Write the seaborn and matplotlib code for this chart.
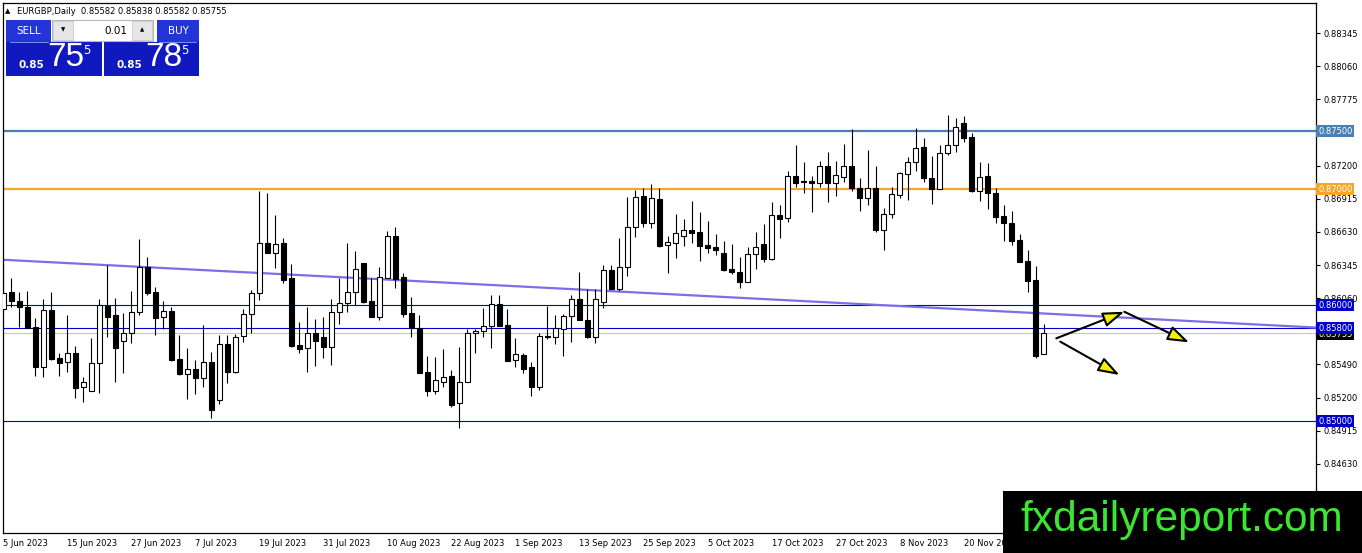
import matplotlib
matplotlib.use("Agg")
import numpy as np
import pandas as pd
import seaborn as sns
import matplotlib.pyplot as plt
from matplotlib.patches import Rectangle
from matplotlib.transforms import blended_transform_factory

# EURGBP daily, 5 Jun 2023 .. 4 Dec 2023
opens = [
    0.85966, 0.86112, 0.86034, 0.85980, 0.85807, 0.85463, 0.85957, 0.85543, 0.85509, 0.85584,
    0.85290, 0.85261, 0.85497, 0.85994, 0.85914, 0.85690, 0.85756, 0.85937, 0.86325, 0.86112,
    0.85899, 0.85948, 0.85537, 0.85403, 0.85446, 0.85373, 0.85506, 0.85181, 0.85661, 0.85425,
    0.85735, 0.85920, 0.86101, 0.86532, 0.86451, 0.86532, 0.86230, 0.85655, 0.85627, 0.85756,
    0.85722, 0.85641, 0.85937, 0.86015, 0.86115, 0.86359, 0.86034, 0.85899, 0.86235, 0.86595,
    0.86244, 0.85934, 0.85799, 0.85422, 0.85261, 0.85339, 0.85388, 0.85153, 0.85334, 0.85756,
    0.85778, 0.85819, 0.86006, 0.85828, 0.85526, 0.85569, 0.85463, 0.85296, 0.85733, 0.85727,
    0.85791, 0.85905, 0.86052, 0.85871, 0.85727, 0.86028, 0.86302, 0.86135, 0.86325, 0.86670,
    0.86940, 0.86704, 0.86911, 0.86517, 0.86537, 0.86597, 0.86647, 0.86627, 0.86517, 0.86503,
    0.86446, 0.86310, 0.86282, 0.86201, 0.86437, 0.86526, 0.86394, 0.86776, 0.86747, 0.87112,
    0.87069, 0.87069, 0.87049, 0.87201, 0.87049, 0.87106, 0.87201, 0.87006, 0.86920, 0.87006,
    0.86647, 0.86782, 0.86948, 0.87127, 0.87235, 0.87359, 0.87092, 0.87000, 0.87313, 0.87379,
    0.87566, 0.87446, 0.86983, 0.87112, 0.86968, 0.86767, 0.86710, 0.86560, 0.86379, 0.86216,
    0.85582,
]
highs = [
    0.86345, 0.86231, 0.86112, 0.86121, 0.85888, 0.86049, 0.86112, 0.85586, 0.85914, 0.85647,
    0.85381, 0.85718, 0.86049, 0.86345, 0.86063, 0.85928, 0.86121, 0.86569, 0.86416, 0.86158,
    0.86034, 0.85980, 0.85741, 0.85632, 0.85526, 0.85828, 0.85597, 0.85741, 0.85741, 0.85750,
    0.85966, 0.86129, 0.86983, 0.86963, 0.86776, 0.86575, 0.86351, 0.85856, 0.85980, 0.85877,
    0.85894, 0.86052, 0.86230, 0.86532, 0.86466, 0.86359, 0.86235, 0.86325, 0.86638, 0.86670,
    0.86273, 0.86072, 0.85914, 0.85560, 0.85554, 0.85621, 0.85440, 0.85641, 0.85793, 0.85793,
    0.85977, 0.86086, 0.86086, 0.85966, 0.85713, 0.85584, 0.85511, 0.85761, 0.85994, 0.85914,
    0.85920, 0.86086, 0.86282, 0.86138, 0.86138, 0.86345, 0.86345, 0.86575, 0.86934, 0.86991,
    0.87006, 0.87043, 0.87006, 0.86595, 0.86782, 0.86739, 0.86899, 0.86799, 0.86724, 0.86609,
    0.86554, 0.86526, 0.86411, 0.86497, 0.86627, 0.86698, 0.86891, 0.86862, 0.87155, 0.87379,
    0.87235, 0.87112, 0.87241, 0.87316, 0.87244, 0.87385, 0.87517, 0.87097, 0.87336, 0.87198,
    0.86839, 0.87020, 0.87149, 0.87278, 0.87528, 0.87437, 0.87284, 0.87379, 0.87638, 0.87609,
    0.87632, 0.87480, 0.87230, 0.87222, 0.87006, 0.86862, 0.86810, 0.86609, 0.86474, 0.86336,
    0.85838,
]
lows = [
    0.85957, 0.85980, 0.85812, 0.85799, 0.85390, 0.85376, 0.85526, 0.85390, 0.85425, 0.85201,
    0.85166, 0.85259, 0.85239, 0.85727, 0.85339, 0.85416, 0.85671, 0.85914, 0.86086, 0.85741,
    0.85791, 0.85520, 0.85400, 0.85190, 0.85233, 0.85296, 0.85023, 0.85147, 0.85325, 0.85416,
    0.85678, 0.85756, 0.86043, 0.86451, 0.86322, 0.86190, 0.85641, 0.85589, 0.85425, 0.85474,
    0.85546, 0.85483, 0.85834, 0.85942, 0.86000, 0.86015, 0.85899, 0.85871, 0.86230, 0.86149,
    0.85899, 0.85727, 0.85411, 0.85216, 0.85230, 0.85296, 0.85123, 0.84937, 0.85334, 0.85584,
    0.85727, 0.85632, 0.85822, 0.85520, 0.85463, 0.85416, 0.85218, 0.85267, 0.85704, 0.85664,
    0.85563, 0.85684, 0.85871, 0.85713, 0.85675, 0.85972, 0.86135, 0.86121, 0.86250, 0.86584,
    0.86675, 0.86661, 0.86497, 0.86278, 0.86403, 0.86509, 0.86537, 0.86382, 0.86451, 0.86431,
    0.86296, 0.86267, 0.86144, 0.86196, 0.86310, 0.86373, 0.86388, 0.86580, 0.86713, 0.87020,
    0.86963, 0.86804, 0.87020, 0.86891, 0.86940, 0.87058, 0.86983, 0.86810, 0.86862, 0.86627,
    0.86474, 0.86753, 0.86925, 0.86905, 0.87155, 0.87058, 0.86868, 0.87000, 0.87293, 0.87322,
    0.87403, 0.86977, 0.86899, 0.86828, 0.86704, 0.86552, 0.86517, 0.86373, 0.86115, 0.85546,
    0.85582,
]
closes = [
    0.86103, 0.86034, 0.85980, 0.85804, 0.85463, 0.85957, 0.85537, 0.85503, 0.85584, 0.85287,
    0.85334, 0.85497, 0.86000, 0.85899, 0.85632, 0.85756, 0.85937, 0.86330, 0.86106, 0.85891,
    0.85948, 0.85526, 0.85403, 0.85446, 0.85373, 0.85506, 0.85095, 0.85661, 0.85425, 0.85722,
    0.85920, 0.86101, 0.86532, 0.86451, 0.86523, 0.86216, 0.85647, 0.85621, 0.85756, 0.85692,
    0.85641, 0.85937, 0.86015, 0.86115, 0.86308, 0.86023, 0.85899, 0.86239, 0.86595, 0.86222,
    0.85922, 0.85799, 0.85411, 0.85261, 0.85353, 0.85377, 0.85138, 0.85334, 0.85756, 0.85776,
    0.85819, 0.86006, 0.85822, 0.85520, 0.85578, 0.85448, 0.85296, 0.85733, 0.85727, 0.85799,
    0.85905, 0.86052, 0.85871, 0.85727, 0.86052, 0.86302, 0.86135, 0.86325, 0.86670, 0.86934,
    0.86704, 0.86920, 0.86509, 0.86541, 0.86618, 0.86647, 0.86623, 0.86511, 0.86494, 0.86474,
    0.86302, 0.86282, 0.86201, 0.86437, 0.86497, 0.86394, 0.86776, 0.86739, 0.87112, 0.87049,
    0.87063, 0.87049, 0.87201, 0.87049, 0.87121, 0.87201, 0.87006, 0.86920, 0.87006, 0.86647,
    0.86782, 0.86954, 0.87135, 0.87235, 0.87351, 0.87092, 0.87000, 0.87313, 0.87379, 0.87537,
    0.87442, 0.86983, 0.87101, 0.86963, 0.86756, 0.86704, 0.86554, 0.86373, 0.86210, 0.85563,
    0.85755,
]

date_labels = [
    "5 Jun 2023", "15 Jun 2023", "27 Jun 2023", "7 Jul 2023", "19 Jul 2023",
    "31 Jul 2023", "10 Aug 2023", "22 Aug 2023", "1 Sep 2023", "13 Sep 2023",
    "25 Sep 2023", "5 Oct 2023", "17 Oct 2023", "27 Oct 2023", "8 Nov 2023",
    "20 Nov 2023", "30 Nov 2023",
]
date_bars = [0, 8, 16, 24, 32, 40, 48, 56, 64, 72, 80, 88, 96, 104, 112, 120, 128]

price_ticks = [0.88345, 0.88060, 0.87775, 0.87200, 0.86915, 0.86630, 0.86345,
               0.86060, 0.85490, 0.85200, 0.84915, 0.84630]
levels = [0.87500, 0.87000, 0.86000, 0.85800, 0.85000]
current_price = 0.85755

trend_bars = [0, 164]
trend_prices = [0.86390, 0.85806]

arrow_from = [(131.6, 0.85713), (140.1, 0.85942), (132.1, 0.85684)]
arrow_to = [(140.1, 0.85942), (148.2, 0.85678), (139.5, 0.85397)]

quote = {"symbol": "EURGBP,Daily", "bid": "75", "ask": "78", "big": "0.85", "frac": "5", "lot": "0.01"}

df = pd.DataFrame({"open": opens, "high": highs, "low": lows, "close": closes})
df["bar"] = np.arange(len(df))
df["up"] = df["close"] >= df["open"]

sns.set_theme(style="white")
plt.rcParams["font.family"] = ["DejaVu Sans"]

W, H = 1362, 553
fig = plt.figure(figsize=(W / 100, H / 100), dpi=100)
fig.patch.set_facecolor("white")
ax = fig.add_axes([3 / W, 1 - 532.5 / H, (1316 - 3) / W, (532.5 - 2.5) / H])
ax.set_facecolor("white")

level_colors = ["#4a7fb3", "#f5a623", "#0000c8", "#0000c8", "#0000c8"]
level_widths = [1.6, 1.6, 0.8, 0.8, 0.8]
for p, c, w in zip(levels, level_colors, level_widths):
    ax.axhline(p, color=c, lw=w, zorder=1)
ax.axhline(current_price, color="#c4c8c0", lw=0.8, zorder=1)

sns.lineplot(x=trend_bars, y=trend_prices, ax=ax, color="#7b6ee6", lw=1.6, zorder=1.5)

# candles
ax.vlines(df["bar"], df["low"], df["high"], color="black", lw=0.8, zorder=2)
body_low = df[["open", "close"]].min(axis=1)
body_h = (df["close"] - df["open"]).abs()
ax.bar(df["bar"], body_h, bottom=body_low, width=0.55,
       color=np.where(df["up"], "white", "black"), edgecolor="black",
       linewidth=0.8, zorder=3)

for (x0, y0), (x1, y1) in zip(arrow_from, arrow_to):
    ax.annotate("", xy=(x1, y1), xytext=(x0, y0),
                arrowprops=dict(arrowstyle="-|>,head_length=1.3,head_width=0.45",
                                fc="#f4f000", ec="black", lw=1.5,
                                shrinkA=0, shrinkB=0, mutation_scale=10),
                zorder=4)

ax.set_xlim(-0.06, 164.06)
ax.set_ylim(0.84039, 0.88608)

ax.set_xticks(date_bars)
ax.set_xticklabels(date_labels, ha="left", fontsize=6)
ax.tick_params(axis="x", direction="out", length=3, width=0.8, pad=2, colors="black")
ax.yaxis.tick_right()
ax.set_yticks(price_ticks)
ax.set_yticklabels([f"{p:.5f}" for p in price_ticks], fontsize=6)
ax.tick_params(axis="y", direction="out", length=3, width=0.8, pad=2.5, colors="black")
for s in ax.spines.values():
    s.set_color("black")
    s.set_linewidth(0.9)
    s.set_visible(True)
ax.grid(False)

# level labels on price scale
tr = blended_transform_factory(ax.transAxes, ax.transData)
ax.text(1.0016, current_price - 0.00005, f"{current_price:.5f}", transform=tr, fontsize=6,
        color="white", va="center", ha="left", clip_on=False, zorder=5,
        bbox=dict(boxstyle="square,pad=0.2", fc="black", ec="none"))
for p, c in zip(levels, level_colors):
    ax.text(1.0016, p, f"{p:.5f}", transform=tr, fontsize=6, color="white",
            va="center", ha="left", clip_on=False, zorder=6,
            bbox=dict(boxstyle="square,pad=0.2", fc=c, ec="none"))

# overlay in pixel coordinates: header, trade panel, watermark
ov = fig.add_axes([0, 0, 1, 1], zorder=10)
ov.set_xlim(0, W)
ov.set_ylim(H, 0)
ov.axis("off")

ov.text(5, 11, "\u25b2", fontsize=5, va="center", ha="left", color="black")
ov.text(17, 11, f"{quote['symbol']}  " + " ".join(f"{v:.5f}" for v in (opens[-1], highs[-1], lows[-1], closes[-1])),
        fontsize=6, va="center", ha="left", color="black")

blue_top = "#2335d6"
blue_box = "#1018c0"
ov.add_patch(Rectangle((6, 20), 45, 21.5, fc=blue_top, ec="none"))
ov.add_patch(Rectangle((157, 20), 42, 21.5, fc=blue_top, ec="none"))
ov.add_patch(Rectangle((6, 41.5), 95.5, 34.5, fc=blue_box, ec="none"))
ov.add_patch(Rectangle((104, 41.5), 95, 34.5, fc=blue_box, ec="none"))
ov.plot([10, 48], [41.5, 41.5], color="#8fa0ff", lw=0.6)
ov.plot([159, 196], [41.5, 41.5], color="#8fa0ff", lw=0.6)
ov.add_patch(Rectangle((52, 20), 101, 21, fc="white", ec="#b8b8b8", lw=0.8))
ov.add_patch(Rectangle((53, 21), 20, 19, fc="#e6e6e6", ec="#c8c8c8", lw=0.6))
ov.add_patch(Rectangle((132, 21), 20, 19, fc="#e6e6e6", ec="#c8c8c8", lw=0.6))
ov.text(63, 30, "\u25bc", fontsize=4, ha="center", va="center", color="black")
ov.text(142, 30, "\u25b2", fontsize=4, ha="center", va="center", color="black")
ov.text(127, 30.5, quote["lot"], fontsize=7.5, ha="right", va="center", color="black")
ov.text(28.5, 31, "SELL", fontsize=7.5, ha="center", va="center", color="white")
ov.text(178, 31, "BUY", fontsize=7.5, ha="center", va="center", color="white")
for x0, digits in ((6, quote["bid"]), (104, quote["ask"])):
    ov.text(x0 + 25.5, 64.5, quote["big"], fontsize=7.5, fontweight="bold", ha="center",
            va="center", color="white")
    ov.text(x0 + 60, 57.5, digits, fontsize=24, ha="center", va="center", color="white",
            family="Liberation Sans")
    ov.text(x0 + 81, 50.5, quote["frac"], fontsize=8.5, ha="center", va="center", color="white")

ov.add_patch(Rectangle((1003, 491), W - 1003, H - 491, fc="black", ec="none"))
ov.text(1182, 520, "fxdailyreport.com", fontsize=30.5, ha="center", va="center",
        color="#3be532", family="Liberation Sans")

fig.savefig("out.png", dpi=100)
